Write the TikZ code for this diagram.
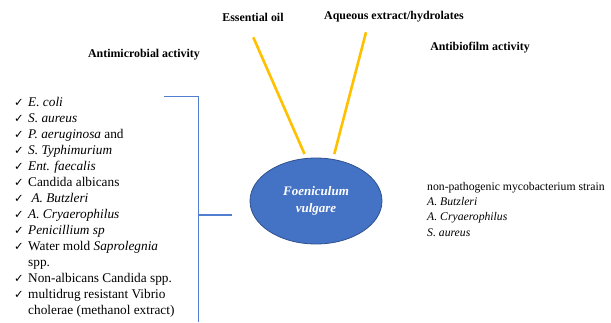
\documentclass[tikz,border=0pt]{standalone}
\usepackage{fontspec}
\setmainfont{Liberation Serif}
\newfontfamily\dejavu{DejaVu Sans}
\usetikzlibrary{shapes.geometric}
\definecolor{fvblue}{RGB}{68,114,196}
\definecolor{fvedge}{RGB}{47,82,143}
\definecolor{brkblue}{RGB}{82,126,210}
\definecolor{oilyellow}{RGB}{255,192,0}
\tikzset{
  hdr/.style={font=\fontsize{11.9}{13}\selectfont\bfseries, inner sep=0pt},
  item/.style={anchor=base west, font=\fontsize{13.3}{15}\selectfont, inner sep=0pt},
  chk/.style={anchor=base west, font=\dejavu\fontsize{11.5}{12}\selectfont, inner sep=0pt},
  rtxt/.style={anchor=base west, font=\fontsize{11.7}{14}\selectfont, inner sep=0pt},
  yline/.style={draw=oilyellow, line width=2.6pt},
  bline/.style={draw=brkblue, line width=1.5pt},
}
\begin{document}
\begin{tikzpicture}[x=1pt,y=-1pt]
\useasboundingbox (0,0) rectangle (611,322);
% headers
\node[hdr] (eo) at (253,17) {Essential oil};
\node[hdr] (aq) at (394,17) {Aqueous extract/hydrolates};
\node[hdr] (am) at (144,55) {Antimicrobial activity};
\node[hdr] (ab) at (480,48) {Antibiofilm activity};
% central ellipse
\node[ellipse, fill=fvblue, draw=fvedge, line width=0.8pt, minimum width=132pt, minimum height=86pt, inner sep=0pt,
      text=white, font=\fontsize{13}{16.5}\selectfont\bfseries\itshape, align=center] (fv) at (316,201) {Foeniculum\\vulgare};
% yellow connectors
\coordinate (y1) at (253.3,37.3);
\coordinate (y1b) at (304.5,154);
\coordinate (y2) at (366,32.3);
\coordinate (y2b) at (334.3,154);
\draw[yline] (y1) -- (y1b);
\draw[yline] (y2) -- (y2b);
% bracket
\coordinate (bt) at (164,96.7);
\coordinate (btr) at (198.5,96.7);
\coordinate (bm) at (198.5,215);
\coordinate (bmr) at (231.5,215);
\coordinate (bb) at (198.5,322);
\draw[bline] (bt) -- (btr) -- (bb);
\draw[bline] (bm) -- (bmr);
% list
\foreach \i/\t in {0/{\itshape E. coli},1/{\itshape S. aureus},2/{\itshape P. aeruginosa} and,3/{\itshape S. Typhimurium},
  4/{\itshape Ent. faecalis},5/Candida albicans,6/{\itshape\ A. Butzleri},7/{\itshape A. Cryaerophilus},
  8/{\itshape Penicillium sp},9/Water mold {\itshape Saprolegnia},11/Non-albicans Candida spp.,12/multidrug resistant Vibrio}{
  \node[chk] (c\i) at (14,106.7+16*\i) {✓};
  \node[item] (t\i) at (28,106.7+16*\i) {\t};
}
\node[item] (t10) at (28,106.7+16*10) {spp.};
\node[item] (t13) at (28,106.7+16*13) {cholerae (methanol extract)};
% right list
\node[rtxt] (r0) at (427,190) {non-pathogenic mycobacterium strain};
\node[rtxt] (r1) at (427,205.3) {\itshape A. Butzleri};
\node[rtxt] (r2) at (427,220.6) {\itshape A. Cryaerophilus};
\node[rtxt] (r3) at (427,236) {\itshape S. aureus};
\end{tikzpicture}
\end{document}
